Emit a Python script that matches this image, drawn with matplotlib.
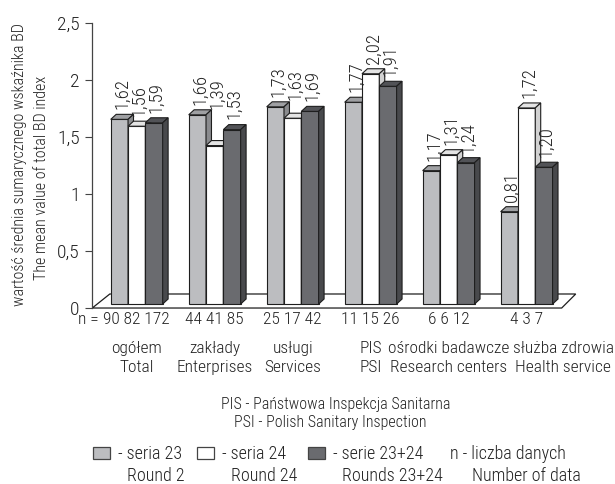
import matplotlib.pyplot as plt
from matplotlib.patches import Polygon, Rectangle

plt.rcParams['font.family'] = ['Roboto Condensed', 'DejaVu Sans']
plt.rcParams['font.weight'] = 'light'

# categories (Polish / English) and the three series
groups_pl = ['ogółem', 'zakłady', 'usługi', 'PIS', 'ośrodki badawcze', 'służba zdrowia']
groups_en = ['Total', 'Enterprises', 'Services', 'PSI', 'Research centers', 'Health service']
seria23 = [1.62, 1.66, 1.73, 1.77, 1.17, 0.81]
seria24 = [1.56, 1.39, 1.63, 2.02, 1.31, 1.72]
serie2324 = [1.59, 1.53, 1.69, 1.91, 1.24, 1.20]
n23 = [90, 44, 25, 11, 6, 4]
n24 = [82, 41, 17, 15, 6, 3]
n2324 = [172, 85, 42, 26, 12, 7]
yticks = [0, 0.5, 1, 1.5, 2, 2.5]
ytick_labels = ['0', '0,5', '1', '1,5', '2', '2,5']

series = [seria23, seria24, serie2324]
fronts = ['#bcbdc0', '#ffffff', '#6a6b6f']
tops = ['#9fa0a3', '#e4e4e4', '#525357']
sides = ['#8a8b8e', '#d2d2d2', '#48494c']
edge = '#1e1e1e'
txt = '#222222'

W = 0.222            # bar width
DX, DY = 0.07, 0.044  # fake depth of each bar
BASE = 0.035         # bars stand a bit behind the floor front edge
GAP = 0.045          # space between bar top and its label
label_lift = {(1, 1): 0.23, (2, 1): 0.07}

fig = plt.figure(figsize=(6.15, 4.84), dpi=100)
ax = fig.add_axes([0.150, 0.3636, 0.795, 0.5888])
ax.set_xlim(-0.57, 5.70)
ax.set_ylim(0, 2.5)

# floor
ax.add_patch(Polygon([(-0.57, 0), (5.45, 0), (5.63, 0.123), (-0.345, 0.123)],
                     closed=True, facecolor='white', edgecolor=edge, lw=0.9,
                     clip_on=False, zorder=1))

x = list(range(len(groups_pl)))
for k, vals in enumerate(series):
    left = [i + (k - 1.5) * W for i in x]
    ax.bar(left, vals, width=W, bottom=BASE, align='edge', color=fronts[k],
           edgecolor=edge, linewidth=0.8, zorder=3 + k)
    for i, (x0, v) in enumerate(zip(left, vals)):
        y1 = BASE + v
        ax.add_patch(Polygon([(x0, y1), (x0 + W, y1), (x0 + W + DX, y1 + DY), (x0 + DX, y1 + DY)],
                             closed=True, facecolor=tops[k], edgecolor=edge, lw=0.8, zorder=3 + k))
        ax.add_patch(Polygon([(x0 + W, BASE), (x0 + W + DX, BASE + DY),
                              (x0 + W + DX, y1 + DY), (x0 + W, y1)],
                             closed=True, facecolor=sides[k], edgecolor=edge, lw=0.8, zorder=3 + k))
        ly = y1 + DY + GAP + label_lift.get((i, k), 0)
        ax.text(x0 + W / 2 + DX / 2, ly, f'{v:.2f}'.replace('.', ','), rotation=90,
                ha='center', va='bottom', fontsize=13.5, color=txt, zorder=10)

# axes styling
for s in ['top', 'right', 'bottom']:
    ax.spines[s].set_visible(False)
ax.spines['left'].set_color('#444')
ax.spines['left'].set_linewidth(0.9)
ax.set_xticks([])
ax.set_yticks(yticks)
ax.set_yticklabels(ytick_labels)
ax.tick_params(axis='y', direction='out', length=5, width=0.8, color='#444',
               labelsize=14, labelcolor=txt, pad=4)

# sample sizes and category names under the floor
for i in x:
    ax.text(i, -0.105, f'{n23[i]} {n24[i]} {n2324[i]}', ha='center', va='center',
            fontsize=12.5, color=txt, clip_on=False)
ax.text(-0.49, -0.105, 'n =', ha='right', va='center', fontsize=12.5, color=txt)
name_shift = [0, 0, 0, 0, 0, 0.47]
for i in x:
    ax.text(i + name_shift[i], -0.351, groups_pl[i], ha='center', va='center', fontsize=12.5, color=txt)
    ax.text(i + name_shift[i], -0.526, groups_en[i], ha='center', va='center', fontsize=12.5, color=txt)

# axis title, two lines
fig.text(0.0325, 0.659, 'wartość średnia sumarycznego wskaźnika BD', rotation=90,
         ha='center', va='center', fontsize=11.5, color=txt)
fig.text(0.068, 0.632, 'The mean value of total BD index', rotation=90,
         ha='center', va='center', fontsize=11.5, color=txt)

# abbreviations
fig.text(336 / 615, 1 - 405 / 484, 'PIS - Państwowa Inspekcja Sanitarna',
         ha='center', va='center', fontsize=11.5, color=txt)
fig.text(330 / 615, 1 - 423 / 484, 'PSI - Polish Sanitary Inspection',
         ha='center', va='center', fontsize=11.5, color=txt)

# legend
legend_pl = ['- seria 23', '- seria 24', '- serie 23+24']
legend_en = ['Round 2', 'Round 24', 'Rounds 23+24']
box_x = [93, 197, 308]
for k in range(3):
    fig.patches.append(Rectangle((box_x[k] / 615, 1 - 459 / 484), 17 / 615, 12 / 484,
                                 transform=fig.transFigure, facecolor=fronts[k],
                                 edgecolor='#444', lw=0.9))
    fig.text((box_x[k] + 25) / 615, 1 - 454 / 484, legend_pl[k], ha='left', va='center',
             fontsize=13, color=txt)
    fig.text((box_x[k] + 34) / 615, 1 - 476 / 484, legend_en[k], ha='left', va='center',
             fontsize=13, color=txt)
fig.text(450 / 615, 1 - 454 / 484, 'n - liczba danych', ha='left', va='center',
         fontsize=13, color=txt)
fig.text(472 / 615, 1 - 476 / 484, 'Number of data', ha='left', va='center',
         fontsize=13, color=txt)

fig.savefig('out.png', dpi=100)
